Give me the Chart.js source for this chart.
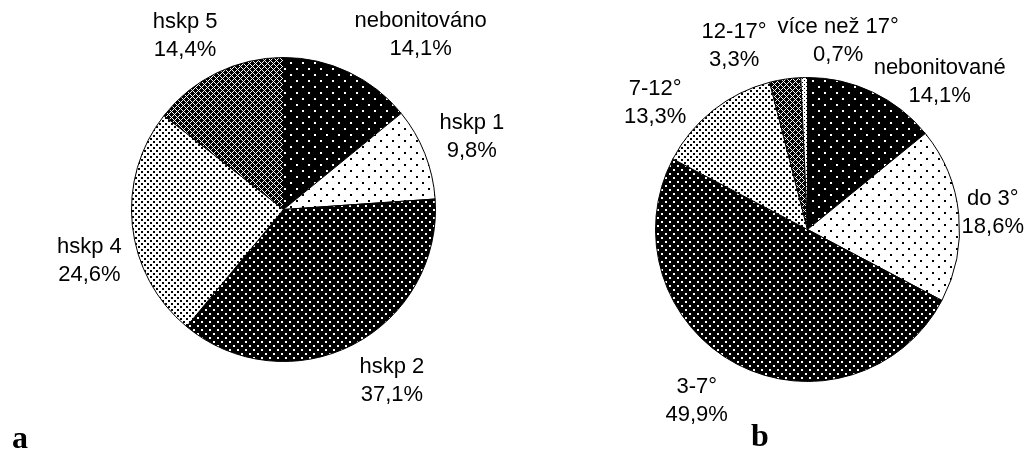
<!DOCTYPE html>
<html>
<head>
<meta charset="utf-8">
<script src="https://cdn.jsdelivr.net/npm/chart.js@4/dist/chart.umd.min.js"></script>
<style>
  html, body { margin: 0; padding: 0; background: #fff; }
  #wrap { position: relative; width: 1031px; height: 450px; overflow: hidden; }
  canvas { position: absolute; left: 0; top: 0; }
  .tag { position: absolute; font-family: "Liberation Serif", "Times New Roman", serif; font-weight: bold; font-size: 32px; line-height: 32px; color: #000; }
</style>
</head>
<body>
<div id="wrap">
  <canvas id="pieA" width="1031" height="450"></canvas>
  <canvas id="pieB" width="1031" height="450"></canvas>
  <div class="tag" style="left:12px; top:421px;">a</div>
  <div class="tag" style="left:751px; top:419px;">b</div>
</div>
<script>
// Land categories by soil quality class (hskp)
const catsA = ['nebonitováno', 'hskp 1', 'hskp 2', 'hskp 4', 'hskp 5'];
const valsA = [14.1, 9.8, 37.1, 24.6, 14.4];

// Land categories by slope
const catsB = ['nebonitované', 'do 3°', '3-7°', '7-12°', '12-17°', 'více než 17°'];
const valsB = [14.1, 18.6, 49.9, 13.3, 3.3, 0.7];

// ---- monochrome fill patterns ----
function makePattern(w, h, bg, draw) {
  const c = document.createElement('canvas');
  c.width = w; c.height = h;
  const g = c.getContext('2d');
  g.fillStyle = bg;
  g.fillRect(0, 0, w, h);
  draw(g);
  return g.createPattern(c, 'repeat');
}
function dots(color, pts, s) {
  return g => { g.fillStyle = color; pts.forEach(p => g.fillRect(p[0], p[1], s, s)); };
}
const P = {
  sparseOnBlack: makePattern(12, 12, '#000', dots('#fff', [[2, 2], [8, 8]], 2)),
  sparseOnWhite: makePattern(12, 12, '#fff', dots('#000', [[2, 2], [8, 8]], 2)),
  denseOnBlack:  makePattern(8, 8, '#000', dots('#fff', [[1, 1], [5, 5]], 2)),
  denseOnWhite:  makePattern(6, 6, '#fff', dots('#000', [[0, 0], [3, 3]], 2)),
  mesh: makePattern(6, 6, '#000', g => {
    g.fillStyle = '#fff';
    for (let x = 0; x < 6; x++) for (let y = 0; y < 6; y++) {
      if ((x + y) % 6 === 0 || ((x - y) + 6) % 6 === 0) g.fillRect(x, y, 1, 1);
    }
  }),
  light: makePattern(4, 4, '#fff', dots('#000', [[0, 0], [2, 2]], 1))
};

const fillsA = [P.sparseOnBlack, P.sparseOnWhite, P.denseOnBlack, P.denseOnWhite, P.mesh];
const fillsB = [P.sparseOnBlack, P.sparseOnWhite, P.denseOnBlack, P.denseOnWhite, P.mesh, P.light];

// label placement: shift from the slice's rim midpoint to the label block centre
const shiftA = [[72, -37], [47, -17], [39, 36], [-43, 35], [-32, -37]];
const shiftB = [[67, -10], [34, -2], [-40, 37], [-58, -7], [-51, -33], [34, -37]];

const fmt = v => v.toFixed(1).replace('.', ',') + '%';

const outerLabels = {
  id: 'outerLabels',
  afterDatasetsDraw(chart, args, opts) {
    const ctx = chart.ctx;
    const meta = chart.getDatasetMeta(0);
    const data = chart.data.datasets[0].data;
    const labels = chart.data.labels;
    ctx.save();
    ctx.fillStyle = '#000';
    ctx.font = '22px "Liberation Sans", Arial, sans-serif';
    ctx.textAlign = 'center';
    ctx.textBaseline = 'middle';
    meta.data.forEach((arc, i) => {
      const p = arc.getProps(['x', 'y', 'startAngle', 'endAngle', 'outerRadius'], true);
      const mid = (p.startAngle + p.endAngle) / 2;
      const ax = p.x + Math.cos(mid) * p.outerRadius + opts.shift[i][0];
      const ay = p.y + Math.sin(mid) * p.outerRadius + opts.shift[i][1];
      ctx.fillText(labels[i], ax, ay - 14);
      ctx.fillText(fmt(data[i]), ax, ay + 14);
    });
    ctx.restore();
  }
};

function pie(id, cats, vals, fills, shift, pad) {
  return new Chart(document.getElementById(id), {
    type: 'pie',
    data: {
      labels: cats,
      datasets: [{
        data: vals,
        backgroundColor: fills,
        borderColor: '#000',
        borderWidth: 1,
        hoverOffset: 0
      }]
    },
    options: {
      responsive: false,
      devicePixelRatio: 1,
      animation: false,
      events: [],
      layout: { padding: pad },
      plugins: {
        legend: { display: false },
        tooltip: { enabled: false },
        outerLabels: { shift: shift }
      }
    },
    plugins: [outerLabels]
  });
}

pie('pieA', catsA, valsA, fillsA, shiftA, { left: 131, right: 595, top: 57, bottom: 88 });
pie('pieB', catsB, valsB, fillsB, shiftB, { left: 655, right: 71, top: 77, bottom: 68 });
</script>
</body>
</html>
